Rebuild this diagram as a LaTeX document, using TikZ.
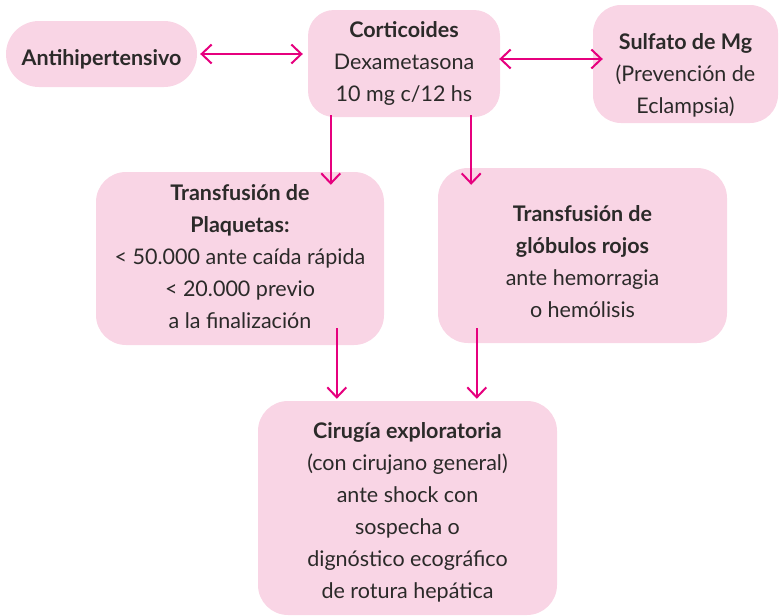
\documentclass[tikz,border=0pt]{standalone}
\usepackage{fontspec}
\setmainfont{Lato}
\usepackage{xcolor}
\usetikzlibrary{arrows.meta,calc,positioning}
\definecolor{rosa}{HTML}{F9D5E5}
\definecolor{fucsia}{HTML}{E6007E}
\definecolor{texto}{HTML}{2B2A29}
\newcommand{\bloque}[2]{\raisebox{0pt}[\dimexpr\height+#1\relax][\depth]{\begin{tabular}{@{}c@{}}#2\end{tabular}}}

\begin{document}
\begin{tikzpicture}[x=1pt,y=-1pt,
	caja/.style={fill=rosa, text=texto, align=center, inner sep=0pt,
		font=\fontsize{21.5}{32}\selectfont},
	flecha/.style={draw=fucsia, line width=2pt,
		-{Straight Barb[length=10pt,width=19pt]}},
	doble/.style={draw=fucsia, line width=2pt,
		{Straight Barb[length=10pt,width=19pt]}-{Straight Barb[length=10pt,width=19pt]}}]
			\useasboundingbox (0,0) rectangle (780,616);
			
			\node[caja, minimum width=191pt, minimum height=66pt, rounded corners=33pt] (anti) at (101.5,54)
				{\bloque{10pt}{\textbf{Antihipertensivo}}};
			\node[caja, minimum width=192pt, minimum height=107pt, rounded corners=26pt] (cort) at (404,63.5)
				{\bloque{0pt}{\textbf{Corticoides}\\Dexametasona\\10 mg c/12 hs}};
			\node[caja, minimum width=185pt, minimum height=116pt, rounded corners=28pt] (sulf) at (685.5,64)
				{\bloque{22pt}{\textbf{Sulfato de Mg}\\(Prevención de\\Eclampsia)}};
			
			\node[caja, minimum width=288pt, minimum height=173pt, rounded corners=30pt] (plaq) at (240,258.5)
				{\bloque{0pt}{\textbf{Transfusión de}\\\textbf{Plaquetas:}\\< 50.000 ante caída rápida\\< 20.000 previo\\a la finalización}};
			\node[caja, minimum width=289pt, minimum height=175pt, rounded corners=30pt] (glob) at (582.5,255.5)
				{\bloque{16pt}{\textbf{Transfusión de}\\\textbf{glóbulos rojos}\\ante hemorragia\\o hemólisis}};
			
			\node[caja, minimum width=299pt, minimum height=214pt, rounded corners=30pt] (cir) at (407.5,508)
				{\bloque{8pt}{\textbf{Cirugía exploratoria}\\(con cirujano general)\\ante shock con\\sospecha o\\dignóstico ecográfico\\de rotura hepática}};
			
			\draw[doble, shorten <=3pt, shorten >=5pt] (anti.east) -- (anti.east -| cort.west);
			\draw[doble, shorten <=-1pt, shorten >=-10pt] ([yshift=4.5pt]cort.east) -- ([yshift=4.5pt]cort.east -| sulf.west);
			
			\draw[flecha] ($(cort.south west)+(23,-2)$) -- ($(cort.south west |- plaq.north)+(23,13)$);
			\draw[flecha] ($(cort.south east)+(-29,-2)$) -- ($(cort.south east |- glob.north)+(-29,17)$);
			
			\draw[flecha] ($(plaq.south west)+(241,-17)$) -- ($(plaq.south west |- cir.north)+(241,-2)$);
			\draw[flecha] ($(glob.south west)+(39,-15)$) -- ($(glob.south west |- cir.north)+(39,-2)$);
\end{tikzpicture}
\end{document}
